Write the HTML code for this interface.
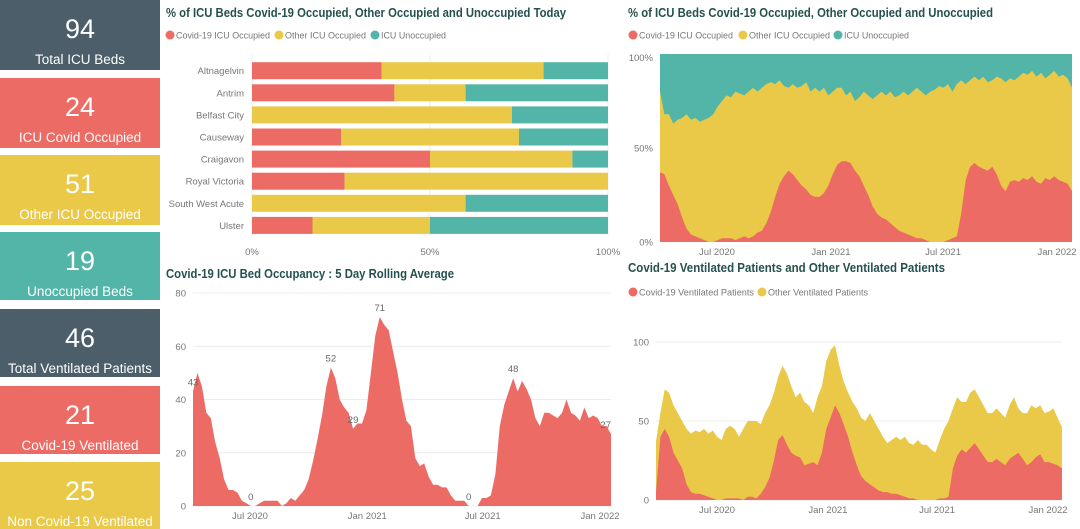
<!DOCTYPE html>
<html><head><meta charset="utf-8"><style>
html,body{margin:0;padding:0;background:#fff;width:1080px;height:529px;overflow:hidden;font-family:"Liberation Sans",sans-serif}
.card{position:absolute;left:0;width:160px;color:#fff;text-align:center}
.card .num{font-size:27px;line-height:30px;padding-top:14px}
.card .lbl{font-size:13.5px;margin-top:8px}
svg{position:absolute;left:0;top:0}
</style></head><body>
<div class="card" style="top:0;height:70px;background:#4b5e69"><div class="num">94</div><div class="lbl">Total ICU Beds</div></div>
<div class="card" style="top:78px;height:70px;background:#ec6b64"><div class="num">24</div><div class="lbl">ICU Covid Occupied</div></div>
<div class="card" style="top:155px;height:70px;background:#e9c947"><div class="num">51</div><div class="lbl">Other ICU Occupied</div></div>
<div class="card" style="top:232px;height:68px;background:#52b5a8"><div class="num">19</div><div class="lbl">Unoccupied Beds</div></div>
<div class="card" style="top:309px;height:68px;background:#4b5e69"><div class="num">46</div><div class="lbl">Total Ventilated Patients</div></div>
<div class="card" style="top:386px;height:68px;background:#ec6b64"><div class="num">21</div><div class="lbl">Covid-19 Ventilated</div></div>
<div class="card" style="top:462px;height:67px;background:#e9c947"><div class="num">25</div><div class="lbl">Non Covid-19 Ventilated</div></div>
<svg id="s" width="1080" height="529" xmlns="http://www.w3.org/2000/svg"></svg>
<script>
// ---- Chart 1 data ----
const hospitals=["Altnagelvin","Antrim","Belfast City","Causeway","Craigavon","Royal Victoria","South West Acute","Ulster"];
const hospCovid=[36.4,40,0,25,50,26,0,17];
const hospOther=[45.5,20,73,50,40,74,60,33];
const hospUnocc=[18.1,40,27,25,10,0,40,50];
const pctTicks=["0%","50%","100%"];
const dateTicks=["Jul 2020","Jan 2021","Jul 2021","Jan 2022"];
const dateTickDays=[90,274,455,639];
// ---- Chart 2 data (weekly from Apr 2020) ----
const rolling=[43,50,45,35,33,24,18,10,6,6,5,2,1,0,0,1,2,2,2,2,0,1,3,2,4,6,10,17,25,34,45,52,48,40,37,35,29,31,31,36,50,64,71,68,66,58,50,40,32,30,18,15,16,11,8,8,7,7,4,2,2,2,0,0,0,3,3,4,12,30,38,43,48,43,47,44,40,33,30,35,35,34,33,35,40,35,34,32,37,33,34,33,30,30,27];
const rollingLabelIdx=[0,13,31,36,42,62,72,94];
const rollingTicks=[0,20,40,60,80];
// ---- Chart 3 data ----
const pctCovid=[37,36,30,25,20,13,7,4,3,2,1,0,0,1,2,2,2,1,2,3,2,3,5,6,10,16,24,31,35,38,36,33,30,28,25,24,24,26,30,36,41,43,43,42,38,35,30,25,19,15,13,12,10,8,6,5,4,3,2,2,1,0,0,0,0,1,2,3,15,33,40,42,40,39,38,40,36,30,27,32,33,32,34,33,35,32,31,34,33,35,33,32,31,27];
const pctOccupied=[80,68,68,63,65,66,68,65,66,64,65,66,68,72,75,78,77,80,79,78,80,82,80,82,84,85,84,86,83,82,84,82,83,85,80,82,80,82,78,80,82,82,78,80,75,77,80,78,76,78,80,78,80,77,78,80,78,80,82,80,78,80,81,83,82,84,80,84,86,84,86,88,86,88,85,86,88,87,85,87,86,88,90,89,91,88,90,87,89,91,88,89,87,82];
// ---- Chart 4 data ----
const ventCovid=[5,40,45,40,30,25,20,10,5,4,4,3,2,1,0,0,1,1,1,1,0,2,2,1,4,8,14,25,38,41,35,30,28,27,22,23,24,22,30,45,52,60,55,48,40,30,22,15,12,10,8,6,5,5,4,4,3,2,1,1,0,0,0,0,0,1,1,2,20,28,32,30,33,36,32,28,24,24,26,24,22,26,28,30,26,22,24,27,29,24,24,23,22,20];
const ventTotal=[37,55,70,68,60,55,50,45,42,44,43,45,42,44,40,38,45,47,45,40,45,50,50,50,48,55,60,68,78,85,80,72,65,68,62,60,55,65,72,88,95,98,85,75,68,62,58,52,50,55,50,45,40,36,38,40,38,40,36,35,38,35,35,32,30,38,45,50,58,65,62,62,68,70,65,60,55,55,58,55,52,60,65,58,55,55,60,58,60,55,56,58,52,46];
const ventTicks=[0,50,100];

const RED="#ec6b64",YEL="#e9c947",TEAL="#52b5a8",GRID="#ececec",TXT="#777",TITLE="#24514f";
const s=document.getElementById('s');
function el(tag,attrs,parent){const e=document.createElementNS("http://www.w3.org/2000/svg",tag);for(const k in attrs)e.setAttribute(k,attrs[k]);(parent||s).appendChild(e);return e;}
function txt(x,y,t,size,fill,anchor,weight,len){const e=el('text',{x:x,y:y,'font-size':size,fill:fill,'text-anchor':anchor||'start','font-weight':weight||'normal','font-family':'Liberation Sans, sans-serif'});if(len){e.setAttribute('textLength',len);e.setAttribute('lengthAdjust','spacingAndGlyphs');}e.textContent=t;return e;}
function legend(items,y){items.forEach(it=>{const c=el('circle',{cx:it[0],cy:y,r:4.5,fill:it[2]});


const t=txt(it[0]+6,y+3.5,it[1],9.5,TXT,'start','normal',it[3]);

});}
function dateScale(x0,x1,tickX0,tickX1){const a=(tickX1-tickX0)/(dateTickDays[3]-dateTickDays[0]);const b=tickX0-a*dateTickDays[0];return {tick:d=>a*d+b,data:(i,n)=>x0+(x1-x0)*i/(n-1)};}

// ===== Chart 1 =====
let t=txt(166,17,"% of ICU Beds Covid-19 Occupied, Other Occupied and Unoccupied Today",12.5,TITLE,'start','bold',400);


legend([[170,"Covid-19 ICU Occupied",RED,94],[279,"Other ICU Occupied",YEL,81],[375,"ICU Unoccupied",TEAL,65]],35);
const bx0=252,bx1=608;const bxs=v=>bx0+(bx1-bx0)*v/100;
pctTicks.forEach((p,i)=>{const x=bx0+(bx1-bx0)*i/2;el('line',{x1:x,x2:x,y1:54,y2:236,stroke:GRID});const tt=txt(x,255,p,9.5,TXT,'middle');

});
hospitals.forEach((h,i)=>{const cy=70.7+i*22.1;const y=cy-8.5;
const l=txt(244,cy+3.5,h,9.5,TXT,'end');


let acc=0;[[hospCovid[i],RED],[hospOther[i],YEL],[hospUnocc[i],TEAL]].forEach(([v,c])=>{if(v>0){const r=el('rect',{x:bxs(acc),y:y,width:bxs(acc+v)-bxs(acc),height:17,fill:c});

}acc+=v;});});

// ===== Chart 2 =====
t=txt(166,278,"Covid-19 ICU Bed Occupancy : 5 Day Rolling Average",12.5,TITLE,'start','bold',288);


const c2={x0:193,x1:611,y0:506,y1:293,max:80};const y2=v=>c2.y0-(c2.y0-c2.y1)*v/c2.max;
const ds2=dateScale(c2.x0,c2.x1,250,600);
rollingTicks.forEach(v=>{el('line',{x1:c2.x0,x2:c2.x1,y1:y2(v),y2:y2(v),stroke:GRID});const tt=txt(186,y2(v)+3.5,String(v),9.5,TXT,'end');

});
let pts=rolling.map((v,i)=>ds2.data(i,rolling.length).toFixed(1)+","+y2(v).toFixed(1));
let p=el('polygon',{points:ds2.data(0,rolling.length)+","+c2.y0+" "+pts.join(" ")+" "+ds2.data(rolling.length-1,rolling.length)+","+c2.y0,fill:RED});


rollingLabelIdx.forEach(i=>{const j=Math.min(i,rolling.length-1);const tt=txt(ds2.data(j,rolling.length),y2(rolling[j])-6,String(rolling[j]),9.5,'#666',j===rolling.length-1?'end':'middle');

});
dateTicks.forEach((d,i)=>{const tt=txt(ds2.tick(dateTickDays[i]),519,d,9.5,TXT,'middle');

});

// ===== Chart 3 =====
t=txt(628,17,"% of ICU Beds Covid-19 Occupied, Other Occupied and Unoccupied",12.5,TITLE,'start','bold',365);


legend([[633,"Covid-19 ICU Occupied",RED,94],[743,"Other ICU Occupied",YEL,81],[838,"ICU Unoccupied",TEAL,65]],35);
const c3={x0:660,x1:1072,y0:242,y1:54};const y3=v=>c3.y0-(c3.y0-c3.y1)*v/100;
const ds3=dateScale(c3.x0,c3.x1,717,1057);
let r=el('rect',{x:c3.x0,y:c3.y1,width:c3.x1-c3.x0,height:c3.y0-c3.y1,fill:TEAL});


const N3=pctCovid.length;
pts=pctOccupied.map((v,i)=>ds3.data(i,N3).toFixed(1)+","+y3(v).toFixed(1));
p=el('polygon',{points:c3.x0+","+c3.y0+" "+pts.join(" ")+" "+c3.x1+","+c3.y0,fill:YEL});


pts=pctCovid.map((v,i)=>ds3.data(i,N3).toFixed(1)+","+y3(v).toFixed(1));
p=el('polygon',{points:c3.x0+","+c3.y0+" "+pts.join(" ")+" "+c3.x1+","+c3.y0,fill:RED});


pctTicks.forEach((lab,i)=>{const tt=txt(653,y3(i*50)+(i===2?7:3.5),lab,9.5,TXT,'end');

});
dateTicks.forEach((d,i)=>{const tt=txt(ds3.tick(dateTickDays[i]),255,d,9.5,TXT,'middle');

});

// ===== Chart 4 =====
t=txt(628,272,"Covid-19 Ventilated Patients and Other Ventilated Patients",12.5,TITLE,'start','bold',317);


legend([[633,"Covid-19 Ventilated Patients",RED,115],[762,"Other Ventilated Patients",YEL,100]],292);
const c4={x0:656,x1:1062,y0:500,y1:342,max:100};const y4=v=>c4.y0-(c4.y0-c4.y1)*v/c4.max;
const ds4=dateScale(c4.x0,c4.x1,717,1048);
ventTicks.forEach(v=>{el('line',{x1:c4.x0,x2:1062,y1:y4(v),y2:y4(v),stroke:GRID});const tt=txt(649,y4(v)+3.5,String(v),9.5,TXT,'end');

});
const N4=ventTotal.length;
pts=ventTotal.map((v,i)=>ds4.data(i,N4).toFixed(1)+","+y4(v).toFixed(1));
p=el('polygon',{points:c4.x0+","+c4.y0+" "+pts.join(" ")+" "+c4.x1+","+c4.y0,fill:YEL});


pts=ventCovid.map((v,i)=>ds4.data(i,N4).toFixed(1)+","+y4(v).toFixed(1));
p=el('polygon',{points:c4.x0+","+c4.y0+" "+pts.join(" ")+" "+c4.x1+","+c4.y0,fill:RED});


dateTicks.forEach((d,i)=>{const tt=txt(ds4.tick(dateTickDays[i]),513,d,9.5,TXT,'middle');

});
</script>
</body></html>
